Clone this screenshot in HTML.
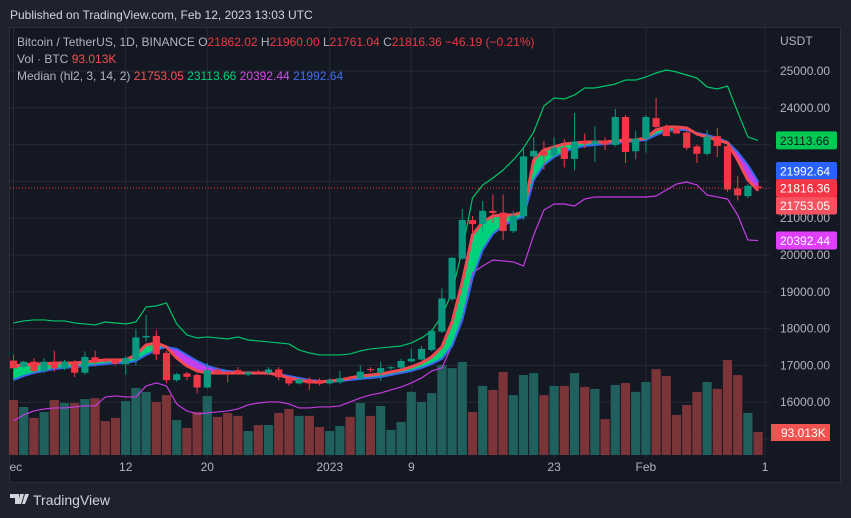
<!DOCTYPE html>
<html><head><meta charset="utf-8">
<style>
html,body{margin:0;padding:0;background:#1e222d;width:851px;height:518px;overflow:hidden;font-family:"Liberation Sans",sans-serif;}
svg{display:block}
</style></head>
<body>
<svg id="chart" width="851" height="518" viewBox="0 0 851 518" xmlns="http://www.w3.org/2000/svg" font-family="Liberation Sans, sans-serif">
<rect x="0" y="0" width="851" height="518" fill="#1e222d"/>
<text x="10" y="19" font-size="12" fill="#d1d4dc">Published on TradingView.com, Feb 12, 2023 13:03 UTC</text>
<rect x="9.5" y="27.5" width="831" height="455" fill="#141823" stroke="#2a2e39"/>
<g id="grid"></g>
<g id="vol"></g>
<g id="bands"></g>
<g id="candles"></g>
<g id="axis"></g>
<g font-size="12">
<text x="17" y="46" fill="#b2b5be">Bitcoin / TetherUS, 1D, BINANCE  <tspan>O</tspan><tspan fill="#f23645">21862.02</tspan>  H<tspan fill="#f23645">21960.00</tspan>  L<tspan fill="#f23645">21761.04</tspan>  C<tspan fill="#f23645">21816.36</tspan>  <tspan fill="#f23645">−46.19 (−0.21%)</tspan></text>
<text x="17" y="63" fill="#b2b5be">Vol · BTC  <tspan fill="#f05350">93.013K</tspan></text>
<text x="17" y="80" fill="#b2b5be">Median (hl2, 3, 14, 2)  <tspan fill="#f05350">21753.05</tspan>  <tspan fill="#00d27a">23113.66</tspan>  <tspan fill="#d54be6">20392.44</tspan>  <tspan fill="#3f6ff0">21992.64</tspan></text>
</g>
<text x="780" y="45" font-size="12" fill="#b2b5be">USDT</text>
<g>
<path d="M10 494h9v10h-4v-6h-5z M20 494h4l-3 10h-3z M25 494h4l-4 10h-3z" fill="#d1d4dc"/>
<text x="33" y="505" font-size="14" fill="#d1d4dc">TradingView</text>
</g>
</svg>
<script>
const opens  = [17130,16960,17100,16850,17100,16920,17080,16800,17220,17160,17160,17030,17160,17760,17800,17340,16600,16780,16740,16400,16880,16820,16870,16750,16820,16800,16890,16670,16510,16620,16600,16510,16540,16680,16650,16900,16800,16920,16940,17110,17160,17420,17920,18800,19900,20950,20840,21200,21150,20650,21050,22680,22820,22700,22920,22610,23100,23020,23100,22990,23750,22820,23160,23720,23480,23460,23330,22950,22750,23230,22960,21800,21600,21862];
const highs  = [17290,17130,17200,17200,17400,17150,17150,17380,17400,17200,17200,17250,17980,18370,17950,17400,16800,16820,16780,17060,16950,16850,16950,16850,16880,16950,16950,16700,16650,16680,16650,16650,16850,16720,17000,16950,17100,16980,17180,17450,17530,17980,19090,19950,21250,21060,21470,21650,21650,21200,22900,23200,23100,23200,23150,23860,23300,23500,23200,23970,23800,23380,23800,24270,23550,23520,23400,23000,23400,23450,23050,22150,21930,21960];
const lows   = [16810,16920,16800,16800,16820,16880,16680,16750,16970,17080,17000,16750,17000,17650,17150,16520,16550,16600,16240,16380,16750,16540,16750,16700,16760,16760,16600,16450,16480,16330,16450,16480,16500,16600,16600,16820,16580,16880,16900,17080,17140,17380,17880,18750,19880,20620,20600,20870,20400,20600,20950,22600,22320,22650,22380,22300,22900,22530,22850,22950,22500,22600,22780,23400,23400,23300,22850,22500,22700,22660,21720,21480,21550,21761];
const closes = [16920,17100,16850,17100,16920,17100,16800,17230,17080,17110,17050,17200,17760,17800,17300,16600,16760,16690,16400,16870,16780,16780,16780,16810,16800,16890,16680,16510,16620,16510,16500,16600,16650,16630,16830,16870,16930,16950,17120,17180,17450,17940,18820,19920,20950,20840,21200,21140,20650,21070,22680,22830,22700,22920,22610,23080,23020,23100,23000,23750,22800,23160,23750,23480,23230,23300,22910,22750,23220,22960,21780,21620,21880,21816];
const volumes = [222,194,150,174,222,210,210,226,230,137,150,218,271,255,214,242,141,109,174,238,154,170,158,97,121,121,170,186,158,158,113,97,117,154,210,158,198,101,133,255,214,250,364,351,376,174,279,263,335,242,323,331,242,279,279,331,275,267,145,283,291,255,295,347,319,162,202,255,295,267,384,323,170,93.013];
const upperBand = [18153,18208,18235,18235,18208,18208,18153,18126,18099,18180,18153,18126,18180,18588,18615,18697,18126,17827,17746,17773,17746,17718,17773,17691,17664,17637,17610,17583,17420,17338,17284,17284,17284,17311,17393,17447,17474,17501,17528,17610,17746,17936,18343,18995,20137,21549,21903,22093,22310,22582,22908,23343,24049,24266,24239,24348,24538,24538,24592,24647,24755,24755,24837,24946,25027,24973,24891,24810,24565,24511,24592,23886,23207,23113.66];
const lowerBand = [15490,15653,15762,15816,15844,15844,15871,15898,15898,16143,16170,16143,16143,16442,16523,16442,15952,15762,15680,15708,15735,15762,15816,15925,15979,16007,16007,15952,15844,15844,15871,15871,15898,16007,16115,16197,16251,16333,16414,16523,16659,16849,16930,17555,18289,19512,19702,19865,19838,19811,19702,20544,21223,21386,21386,21332,21522,21577,21577,21577,21577,21577,21577,21604,21767,21930,21984,21903,21631,21577,21522,21087,20408,20392.44];
const medianLine = [16985,17012,17039,17039,17066,17066,17066,17094,17121,17148,17148,17148,17284,17555,17610,17501,17202,16985,16849,16795,16795,16795,16795,16795,16795,16795,16740,16659,16604,16550,16550,16577,16604,16659,16713,16740,16768,16822,16876,16958,17066,17229,17501,18180,19267,20544,20897,21060,21087,21087,21169,22582,22854,22935,23017,23044,23071,23071,23071,23098,23125,23125,23180,23397,23478,23478,23451,23288,23207,23125,23044,22582,22038,21753.05];
const emaLine = [16604,16713,16795,16849,16904,16931,16958,16985,17012,17039,17066,17066,17121,17284,17420,17501,17447,17284,17121,16985,16904,16849,16822,16795,16795,16795,16768,16713,16659,16604,16577,16550,16577,16604,16632,16659,16686,16740,16795,16849,16931,17039,17175,17528,18235,19376,20137,20571,20789,20952,21033,22038,22446,22663,22799,22908,22962,22989,23017,23044,23071,23098,23125,23261,23370,23397,23397,23315,23261,23180,23071,22799,22446,21992.64];
const priceTicks = [25000,24000,23000,22000,21000,20000,19000,18000,17000,16000,15000];
const dateTicks = [0,11,19,31,39,53,62,73];
const dateLabels = ["ec","12","20","2023","9","23","Feb","1"];
const lastPrice = 21816.36;

const NS="http://www.w3.org/2000/svg";
function el(tag,attrs,parent){const e=document.createElementNS(NS,tag);for(const k in attrs)e.setAttribute(k,attrs[k]);parent.appendChild(e);return e;}
const X0=13.5, DX=10.2;
function xs(i){return X0+i*DX;}
function ys(p){return 71+(25000-p)/1000*36.8;}
const VBASE=455, VPX=4.04;
function yv(v){return VBASE-v/VPX;}

const grid=document.getElementById('grid');
priceTicks.forEach(p=>{const l=el('line',{x1:10,x2:770,y1:ys(p),y2:ys(p),stroke:'#262a35','stroke-width':1},grid);

});
dateTicks.forEach((d,k)=>{const l=el('line',{x1:xs(d)+(k==7?7:0),x2:xs(d)+(k==7?7:0),y1:28,y2:458,stroke:'#262a35','stroke-width':1},grid);

});

const vol=document.getElementById('vol');
volumes.forEach((v,i)=>{const up=closes[i]>=opens[i];
const r=el('rect',{x:xs(i)-4.6,y:yv(v),width:9.2,height:VBASE-yv(v),fill:up?'#1f5f5c':'#7b3438'},vol);

});

const bands=document.getElementById('bands');
for(let i=0;i<medianLine.length-1;i++){
 const diff=(medianLine[i]-emaLine[i])+(medianLine[i+1]-emaLine[i+1]);
 const q=el('polygon',{points:`${xs(i)},${ys(medianLine[i])} ${xs(i+1)},${ys(medianLine[i+1])} ${xs(i+1)},${ys(emaLine[i+1])} ${xs(i)},${ys(emaLine[i])}`,fill:diff>=0?'#00d27a':'#c040f0',stroke:diff>=0?'#00d27a':'#c040f0','stroke-width':0.6},bands);
 
 
}
function pline(arr,color,w,name){const pts=arr.map((p,i)=>xs(i)+','+ys(p)).join(' ');
const l=el('polyline',{points:pts,fill:'none',stroke:color,'stroke-width':w,'stroke-linejoin':'round'},bands);

}
pline(upperBand,'#00c46a',1.2,'upper-band');
pline(lowerBand,'#c53be0',1.2,'lower-band');
pline(emaLine,'#3868f0',2,'ema-line');
pline(medianLine,'#f44a52',3,'median-line');

const lp=el('line',{x1:10,x2:770,y1:ys(lastPrice),y2:ys(lastPrice),stroke:'#f23645','stroke-width':1,'stroke-dasharray':'1 2'},bands);



const cg=document.getElementById('candles');
opens.forEach((o,i)=>{const c=closes[i];const up=c>=o;const col=up?'#089981':'#f23645';const x=xs(i);
const w=el('line',{x1:x,x2:x,y1:ys(highs[i]),y2:ys(lows[i]),stroke:col,'stroke-width':1},cg);


const top=ys(Math.max(o,c)),bot=ys(Math.min(o,c));
const b=el('rect',{x:x-3.6,y:top,width:7.2,height:Math.max(1,bot-top),fill:col},cg);

});

const ax=document.getElementById('axis');
priceTicks.forEach(p=>{if(p===15000)return;const t=el('text',{x:780,y:ys(p)+4,'font-size':12,fill:'#b2b5be'},ax);t.textContent=p.toFixed(2);

});
dateTicks.forEach((d,k)=>{const t=el('text',{x:xs(d)+(k==0?-4:k==7?7:0),y:471,'font-size':12,fill:'#b2b5be','text-anchor':k==0?'start':'middle'},ax);t.textContent=dateLabels[k];

});
function tag(val,shift,txt,bg,fg,name){const y=ys(val)+shift;
const r=el('rect',{x:776,y:y-9,width:61,height:18,rx:2,fill:bg},ax);


const t=el('text',{x:780,y:y+4.5,'font-size':12,fill:fg},ax);t.textContent=txt;

}
tag(upperBand[upperBand.length-1],0,'23113.66','#00c853','#131722','upper-band-tag');
tag(lowerBand[lowerBand.length-1],0,'20392.44','#e040fb','#ffffff','lower-band-tag');
tag(emaLine[emaLine.length-1],-10.7,'21992.64','#2962ff','#ffffff','ema-tag');
tag(medianLine[medianLine.length-1],15,'21753.05','#f7525f','#ffffff','median-tag');
tag(lastPrice,0,'21816.36','#f23645','#ffffff','last-price-tag');
(function(){
const r=el('rect',{x:771,y:424,width:59,height:17,fill:'#f05350'},ax);


const t=el('text',{x:781,y:437,'font-size':12,fill:'#ffffff'},ax);t.textContent='93.013K';

})();
</script>
</body></html>
